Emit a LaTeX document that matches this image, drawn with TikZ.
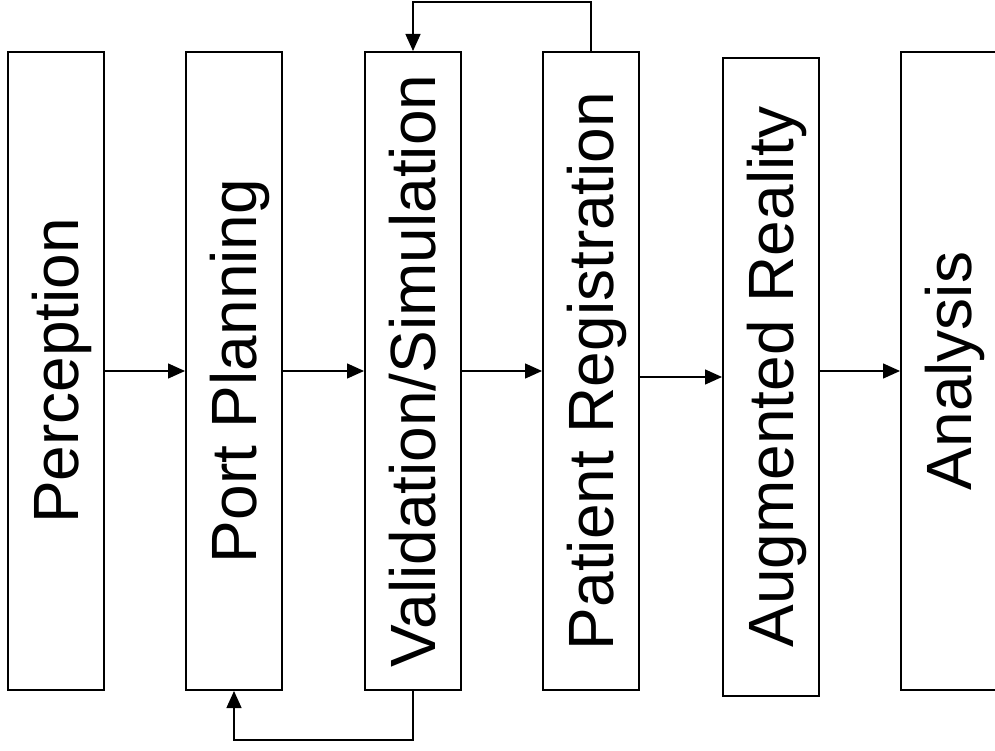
\documentclass[tikz,border=0pt]{standalone}
\usepackage{fontspec}
\setmainfont{Liberation Sans}
\usetikzlibrary{arrows.meta}

\newcommand{\uptext}[1]{\rotatebox{90}{\vphantom{P}\smash{#1}}}

\begin{document}
\begin{tikzpicture}[x=1pt,y=-1pt,
  stage/.style={draw,line width=2pt,minimum width=96pt,minimum height=638pt,
    inner sep=0pt,font=\fontsize{64}{70}\selectfont},
  flow/.style={line width=1.4pt,-{Triangle[length=17pt,width=15pt]}}]

\useasboundingbox (0,0) rectangle (995,751);

\node[stage] (perc) at (56,371) {\uptext{Perception}};
\node[stage] (port) at (234,371) {\uptext{Port Planning}};
\node[stage] (valid) at (413,371) {\uptext{Validation/Simulation}};
\node[stage] (patreg) at (591,371) {\uptext{Patient Registration}};
\node[stage] (augr) at (771,377) {\uptext{Augmented Reality}};
\node[stage] (anal) at (949,371) {\uptext{Analysis}};

\draw[flow] (perc.east) -- (port.west);
\draw[flow] (port.east) -- (valid.west);
\draw[flow] (valid.east) -- (patreg.west);
\draw[flow] (patreg.east |- augr.west) -- (augr.west);
\draw[flow] (augr.east |- anal.west) -- (anal.west);

% feedback loops
\draw[flow] (patreg.north) -- ++(0,-49) -| (valid.north);
\draw[flow] (valid.south) -- ++(0,49) -| (port.south);

\end{tikzpicture}
\end{document}
